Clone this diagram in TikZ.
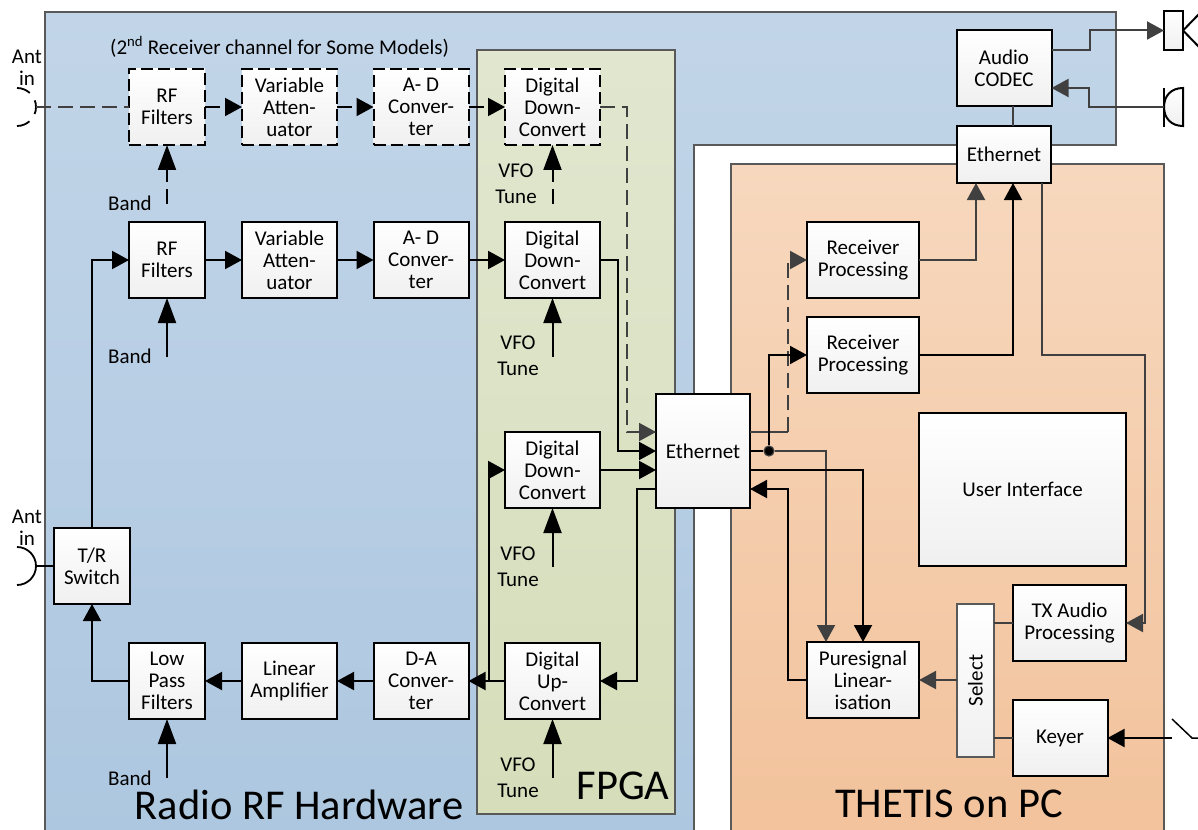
\documentclass[tikz,border=0pt]{standalone}
\usepackage{fontspec}
\setmainfont{Carlito}
\usetikzlibrary{arrows.meta}
\definecolor{gline}{HTML}{404040}
\definecolor{pline}{HTML}{595959}
\definecolor{HTMLtop}{HTML}{C2D5E8}
\definecolor{HTMLbot}{HTML}{ADC7E0}
\definecolor{fpgatop}{HTML}{E1E7CF}
\definecolor{fpgabot}{HTML}{D5DDBA}
\definecolor{pctop}{HTML}{F7D8BE}
\definecolor{pcbot}{HTML}{F2C29B}
\tikzset{
  bx/.style={draw=black,line width=2pt,top color=white,bottom color=black!6,inner sep=0pt,outer sep=0pt,align=center,font=\fontsize{21}{22}\selectfont},
  bxd/.style={bx,dash pattern=on 12pt off 5pt},
  wa/.style={minimum width=76pt,minimum height=76pt},
  wb/.style={minimum width=95pt,minimum height=76pt},
  wc/.style={minimum width=112pt,minimum height=76pt},
  lab/.style={inner sep=0pt,align=center,font=\fontsize{21}{26}\selectfont},
  big/.style={inner sep=0pt,font=\fontsize{42.5}{44}\selectfont},
  panel/.style={draw=pline,line width=2pt},
  ar/.style={black,line width=2pt,-{Triangle[length=17pt,width=18pt]}},
  tall/.style={black,line width=2pt,-{Triangle[length=25pt,width=18pt]}},
  pl/.style={black,line width=2pt},
  gar/.style={gline,line width=2pt,-{Triangle[length=17pt,width=18pt]}},
  gl/.style={gline,line width=2pt},
  dsh/.style={dash pattern=on 15pt off 7pt}
}
\begin{document}
\begin{tikzpicture}[x=1pt,y=-1pt]
\useasboundingbox (0,0) rectangle (1198,829);
\clip (0,0) rectangle (1198,829);
% panels
\shade[panel,top color=HTMLtop,bottom color=HTMLbot] (45,12) -- (1116,12) -- (1116,145) -- (694,145) -- (694,845) -- (45,845) -- cycle;
\shade[panel,top color=fpgatop,bottom color=fpgabot] (477,50) rectangle (675,814);
\shade[panel,top color=pctop,bottom color=pcbot] (731,164) rectangle (1164,845);
% boxes, first row
\node[bxd,wa] (rfa) at (167,107) {RF\\Filters};
\node[bxd,wb] (vaa) at (289.5,107) {Variable\\Atten-\\uator};
\node[bxd,wb] (ada) at (421,107) {A- D\\Conver-\\ter};
\node[bxd,wb] (dda) at (552.5,107) {Digital\\Down-\\Convert};
% second row
\node[bx,wa] (rfb) at (167,260) {RF\\Filters};
\node[bx,wb] (vab) at (289.5,260) {Variable\\Atten-\\uator};
\node[bx,wb] (adb) at (421,260) {A- D\\Conver-\\ter};
\node[bx,wb] (ddb) at (552.5,260) {Digital\\Down-\\Convert};
% third row
\node[bx,wb] (ddc) at (552.5,470) {Digital\\Down-\\Convert};
\node[bx,wa] (tr) at (92,566) {T/R\\Switch};
\node[bx,wa] (lpf) at (167,681) {Low\\Pass\\Filters};
\node[bx,wb] (lin) at (289.5,681) {Linear\\Amplifier};
\node[bx,wb] (da) at (421,681) {D-A\\Conver-\\ter};
\node[bx,wb] (duc) at (552.5,681) {Digital\\Up-\\Convert};
% ethernet
\node[bx,minimum width=94pt,minimum height=114pt] (eth) at (703,451) {Ethernet};
% PC side
\node[bx,wb] (codec) at (1004,68.5) {Audio\\CODEC};
\node[bx,minimum width=94pt,minimum height=57pt] (ethb) at (1004,154.5) {Ethernet};
\node[bx,wc] (rxa) at (863,260) {Receiver\\Processing};
\node[bx,wc] (rxb) at (863,355) {Receiver\\Processing};
\node[bx,minimum width=207pt,minimum height=153pt] (ui) at (1022.5,489.5) {User Interface};
\node[bx,wc] (ps) at (863,680) {Puresignal\\Linear-\\isation};
\node[bx,draw=pline,minimum width=37pt,minimum height=153pt] (sel) at (975.5,680.5) {\rotatebox{90}{Select}};
\node[bx,minimum width=113pt,minimum height=76pt] (txa) at (1069.5,623) {TX Audio\\Processing};
\node[bx,wb] (key) at (1060,738) {\raisebox{-2pt}{Keyer}};
% speaker and microphone
\node[bx,minimum width=19pt,minimum height=39pt] (spk) at (1173.5,30.5) {};
\draw[black,line width=2pt] (spk.east) -- (1200,13);
\draw[black,line width=2pt] (spk.east) -- (1200,48);
\shade[draw=black,line width=2pt,top color=white,bottom color=black!6] (1183,88) .. controls (1171,88) and (1164,96) .. (1164,107) .. controls (1164,118) and (1171,126) .. (1183,126) -- cycle;
\draw[black,line width=2pt] (1164,88) -- (1164,127);
\coordinate (micw) at (1164,107);
% antennas
\draw[black,line width=1.8pt,dash pattern=on 14pt off 9pt] (17,88) arc[start angle=90,end angle=-90,radius=19pt];
\draw[black,line width=1.8pt] (17,547) arc[start angle=90,end angle=-90,radius=19pt];
\coordinate (antA) at (36,107);
\coordinate (antB) at (36,566);
% key contact
\coordinate (keyc) at (1172,738);
\draw[black,line width=1.5pt] (1172,719) -- (1192,738) -- (1200,738);
% free ends
\coordinate (bandA) at (167,204);
\coordinate (bandB) at (167,357);
\coordinate (bandC) at (167,778);
\coordinate (vfoA) at (552.5,204);
\coordinate (vfoB) at (552.5,357);
\coordinate (vfoC) at (552.5,567);
\coordinate (vfoD) at (552.5,778);
\coordinate (ethWa) at ([yshift=19pt]eth.west);
\coordinate (ethWd) at ([yshift=-38pt]eth.west);
\coordinate (ethEa) at ([yshift=19pt]eth.east);
\coordinate (ethEc) at ([yshift=-19pt]eth.east);
\coordinate (ethEd) at ([yshift=-38pt]eth.east);
\coordinate (dturn) at ([xshift=38pt]ethEa);
\coordinate (branch) at (489,681);
\coordinate (ethSa) at ([xshift=-28pt]ethb.south);
\coordinate (ethSb) at ([xshift=9pt]ethb.south);
\coordinate (ethSc) at ([xshift=38pt]ethb.south);
\coordinate (ethNb) at ([xshift=9pt]ethb.north);
\coordinate (codSb) at ([xshift=9pt]codec.south);
\coordinate (codEa) at ([yshift=18.5pt]codec.east);
\coordinate (codEb) at ([yshift=-19.5pt]codec.east);
\coordinate (psNb) at ([xshift=-37pt]ps.north);
\coordinate (txturn) at (1145,355);
\node[circle,fill=black,draw=gline,line width=1.2pt,minimum size=10pt,inner sep=0pt] (dot) at (769,451) {};
% connectors: dashed channel
\draw[gl,dsh] (antA) -- (rfa.west);
\draw[ar,dsh] (rfa.east) -- (vaa.west);
\draw[ar,dsh] (vaa.east) -- (ada.west);
\draw[ar,dsh] (ada.east) -- (dda.west);
\draw[tall,dsh] (bandA) -- (rfa.south);
\draw[tall,dsh] (vfoA) -- (dda.south);
\draw[gar,dsh] (dda.east) -- ++(27,0) |- (ethWa);
\draw[gl] (ethEa) -- (dturn);
\draw[gar,dsh] (dturn) |- (rxa.west);
% connectors: main receive
\draw[pl] (antB) -- (tr.west);
\draw[ar] (tr.north) |- (rfb.west);
\draw[ar] (rfb.east) -- (vab.west);
\draw[ar] (vab.east) -- (adb.west);
\draw[ar] (adb.east) -- (ddb.west);
\draw[tall] (bandB) -- (rfb.south);
\draw[tall] (vfoB) -- (ddb.south);
\draw[ar] (ddb.east) -- ++(18,0) |- (eth.west);
\draw[ar] (ddc.east) -- (ddc.east -| eth.west);
\draw[tall] (vfoC) -- (ddc.south);
% connectors: transmit
\draw[ar] (ethWd) -- ++(-19,0) |- (duc.east);
\draw[ar] (duc.west) -- (da.east);
\draw[ar] (branch) |- (ddc.west);
\draw[ar] (da.west) -- (lin.east);
\draw[ar] (lin.west) -- (lpf.east);
\draw[ar] (lpf.west) -| (tr.south);
\draw[tall] (bandC) -- (lpf.south);
\draw[tall] (vfoD) -- (duc.south);
% connectors: PC
\draw[pl] (eth.east) -- (dot.west);
\draw[gar] (dot.east) -| (psNb);
\draw[ar] (dot.north) |- (rxb.west);
\draw[ar] (ethEc) -| (ps.north);
\draw[ar] (ps.west) -- ++(-19,0) |- (ethEd);
\draw[gar] (rxa.east) -| (ethSa);
\draw[ar] (rxb.east) -| (ethSb);
\draw[gar] (ethSc) |- (txturn) |- (txa.east);
\draw[gl] (codSb) -- (ethNb);
\draw[gar] (codEa) -- ++(38,0) |- (spk.west);
\draw[gar] (micw) -- ++(-75,0) |- (codEb);
\draw[gar] (sel.west |- ps.east) -- (ps.east);
\draw[gl] (txa.west) -- (txa.west -| sel.east);
\draw[gl] (key.west) -- (key.west -| sel.east);
\draw[ar] (keyc) -- (key.east);
% labels
\node[lab,anchor=west] (title) at (110,47) {(2\textsuperscript{nd} Receiver channel for Some Models)};
\node[lab,font=\fontsize{21}{22}\selectfont] (anta) at (27,68) {Ant\\in};
\node[lab,font=\fontsize{21}{22}\selectfont] (antb) at (27,528) {Ant\\in};
\node[lab] (bla) at (130,203) {Band};
\node[lab] (blb) at (130,356) {Band};
\node[lab] (blc) at (130,778) {Band};
\node[lab] (vla) at (516,184) {VFO\\Tune};
\node[lab] (vlb) at (518,356) {VFO\\Tune};
\node[lab] (vlc) at (518,567) {VFO\\Tune};
\node[lab] (vld) at (518,778) {VFO\\Tune};
\node[big] (tr1) at (299,805) {Radio RF Hardware};
\node[big] (tr2) at (623,786) {FPGA};
\node[big] (tr3) at (949,804) {THETIS on PC};
\end{tikzpicture}
\end{document}
